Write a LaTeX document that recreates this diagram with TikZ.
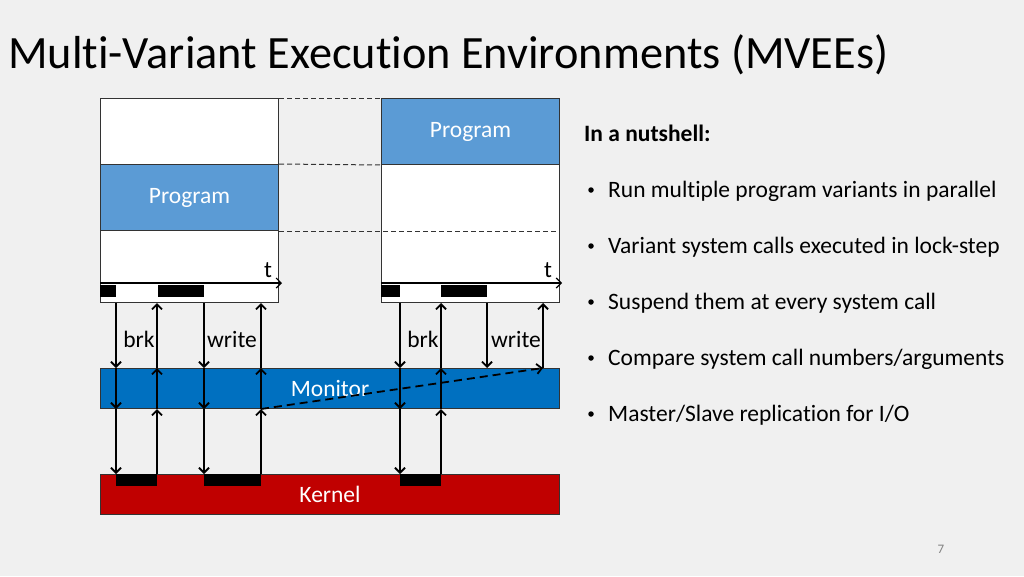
\documentclass[tikz,border=0pt]{standalone}
\usepackage{fontspec}
\setmainfont{Carlito}[Ligatures=NoCommon]
\usepackage{xcolor}
\usetikzlibrary{arrows.meta}

\definecolor{bgcol}{RGB}{240,240,240}
\definecolor{progblue}{RGB}{91,155,213}
\definecolor{monblue}{RGB}{0,112,192}
\definecolor{kernred}{RGB}{192,0,0}

\tikzset{
  box/.style={draw=black!80, line width=1pt, inner sep=0pt, anchor=north west, minimum width=178pt},
  bar/.style={box, minimum width=459pt, minimum height=40pt, text=white, font=\fontsize{23.5}{28}\selectfont},
  call/.style={line width=1.8pt, -{Straight Barb[length=5pt,width=10pt]}},
  lbl/.style={font=\fontsize{23.5}{28}\selectfont},
  txt/.style={anchor=base west, inner sep=0pt, font=\fontsize{23.5}{28}\selectfont},
  dot/.style={inner sep=0pt, circle, fill=black, minimum size=5.5pt},
  guide/.style={dash pattern=on 5pt off 3pt, line width=1pt, black!80},
}

\begin{document}
\begin{tikzpicture}[x=1pt, y=-1pt]
  \fill[bgcol] (0,0) rectangle (1024,576);
  \useasboundingbox (0,0) rectangle (1024,576);

  % Title
  \node[anchor=base west, inner sep=0pt, font=\fontsize{46.3}{54}\selectfont] (title) at (8,68) {Multi-Variant Execution Environments (MVEEs)};

  % Nodes
  \node[box, fill=white, minimum height=66pt] (L1) at (100,98) {};
  \node[box, fill=progblue, minimum height=66pt, text=white, lbl] (L2) at (100,164) {Program};
  \node[box, fill=white, minimum height=72pt] (L3) at (100,230) {};
  \node[box, fill=progblue, minimum height=66pt, text=white, lbl] (R1) at (381,98) {Program};
  \node[box, fill=white, minimum height=138pt] (R2) at (381,164) {};
  \node[bar, fill=monblue] (mon) at (100,368) {Monitor};
  \node[bar, fill=kernred] (ker) at (100,474) {Kernel};

  % Guides between the variants
  \draw[guide] (L1.north east) -- (R1.north west);
  \draw[guide] (L2.north east) -- (R1.south west);
  \draw[guide] (L2.south east) -- (R2.east |- L2.south);

  % Time axes
  \coordinate (tL) at (100,283);
  \coordinate (tR) at (381,283);
  \draw[call, line width=1.2pt] (tL) -- ++(182,0);
  \draw[call, line width=1.2pt] (tR) -- ++(181,0);
  \node[lbl] (tl) at (268,270) {t};
  \node[lbl] (tr) at (548,270) {t};

  % Running / waiting
  \fill (100,285) rectangle (116,297);
  \fill (158,285) rectangle (204,297);
  \fill (381,285) rectangle (400,297);
  \fill (441,285) rectangle (487,297);
  \fill (116,474) rectangle (157,486);
  \fill (204,474) rectangle (261,486);
  \fill (400,474) rectangle (441,486);

  % Calls
  \coordinate (a1) at (116,0);
  \coordinate (a2) at (157,0);
  \coordinate (a3) at (204,0);
  \coordinate (a4) at (261,0);
  \coordinate (b1) at (400,0);
  \coordinate (b2) at (441,0);
  \coordinate (b3) at (487,0);
  \coordinate (b4) at (543,0);

  \draw[call] (L3.south -| a1) -- (mon.north -| a1);
  \draw[call] (mon.north -| a1) -- (mon.south -| a1);
  \draw[call] (mon.south -| a1) -- (ker.north -| a1);
  \draw[call] (ker.north -| a2) -- (mon.south -| a2);
  \draw[call] (mon.south -| a2) -- (mon.north -| a2);
  \draw[call] (mon.north -| a2) -- (L3.south -| a2);
  \draw[call] (L3.south -| a3) -- (mon.north -| a3);
  \draw[call] (mon.north -| a3) -- (mon.south -| a3);
  \draw[call] (mon.south -| a3) -- (ker.north -| a3);
  \draw[call] (ker.north -| a4) -- (mon.south -| a4);
  \draw[call] (mon.south -| a4) -- (mon.north -| a4);
  \draw[call] (mon.north -| a4) -- (L3.south -| a4);

  \draw[call] (R2.south -| b1) -- (mon.north -| b1);
  \draw[call] (mon.north -| b1) -- (mon.south -| b1);
  \draw[call] (mon.south -| b1) -- (ker.north -| b1);
  \draw[call] (ker.north -| b2) -- (mon.south -| b2);
  \draw[call] (mon.south -| b2) -- (mon.north -| b2);
  \draw[call] (mon.north -| b2) -- (R2.south -| b2);
  \draw[call] (R2.south -| b3) -- (mon.north -| b3);
  \draw[call] (mon.north -| b4) -- (R2.south -| b4);
  \draw[call, dash pattern=on 8pt off 5pt] (mon.south -| a4) -- (mon.north -| b4);

  \node[lbl] (brk1) at (139,339) {brk};
  \node[lbl] (wr1) at (232,339) {write};
  \node[lbl] (brk2) at (423,339) {brk};
  \node[lbl] (wr2) at (516,339) {write};

  % In a nutshell
  \node[txt, font=\bfseries\fontsize{23.5}{28}\selectfont] (head) at (584,141) {In a nutshell:};
  \node[txt] (i1) at (608,197) {Run multiple program variants in parallel};
  \node[txt] (i2) at (608,253) {Variant system calls executed in lock-step};
  \node[txt] (i3) at (608,309) {Suspend them at every system call};
  \node[txt] (i4) at (608,365) {Compare system call numbers/arguments};
  \node[txt] (i5) at (608,421) {Master/Slave replication for I/O};
  \node[dot] (d1) at (591,190) {};
  \node[dot] (d2) at (591,246) {};
  \node[dot] (d3) at (591,302) {};
  \node[dot] (d4) at (591,358) {};
  \node[dot] (d5) at (591,414) {};

  \node[font=\fontsize{13}{15}\selectfont, text=gray] (pg) at (941,549) {7};
\end{tikzpicture}
\end{document}
